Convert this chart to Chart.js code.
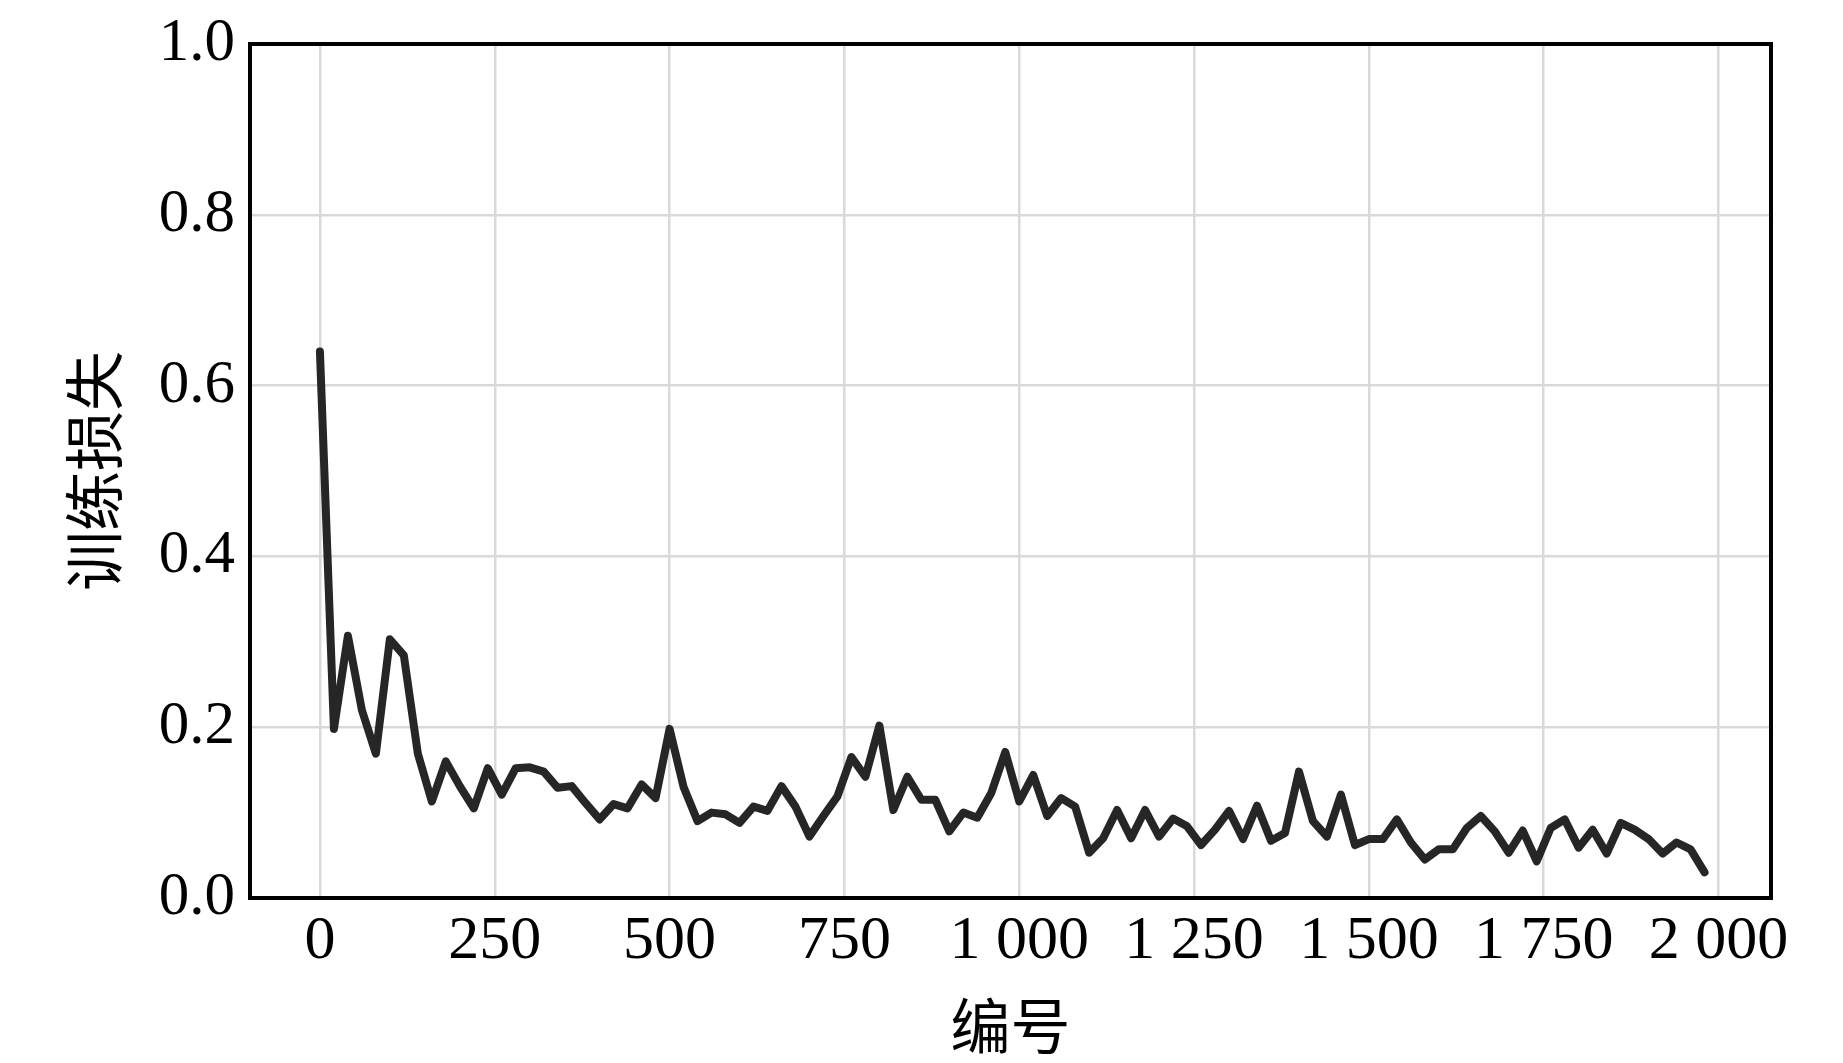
<!DOCTYPE html>
<html>
<head>
<meta charset="utf-8">
<script src="https://cdn.jsdelivr.net/npm/chart.js@4/dist/chart.umd.min.js"></script>
<style>
  html, body { margin: 0; padding: 0; background: #ffffff; }
  #wrap { width: 1843px; height: 1063px; position: relative; }
</style>
</head>
<body>
<div id="wrap"><canvas id="c"></canvas></div>
<script>
// ---- data ----
const steps = [0,20,40,60,80,100,120,140,160,180,200,220,240,260,280,300,320,340,360,380,
  400,420,440,460,480,500,520,540,560,580,600,620,640,660,680,700,720,740,760,780,
  800,820,840,860,880,900,920,940,960,980,1000,1020,1040,1060,1080,1100,1120,1140,1160,1180,
  1200,1220,1240,1260,1280,1300,1320,1340,1360,1380,1400,1420,1440,1460,1480,1500,1520,1540,1560,1580,
  1600,1620,1640,1660,1680,1700,1720,1740,1760,1780,1800,1820,1840,1860,1880,1900,1920,1940,1960,1980];
const trainLoss = [0.640,0.198,0.307,0.220,0.169,0.303,0.284,0.169,0.113,0.160,
  0.131,0.105,0.152,0.121,0.152,0.153,0.148,0.129,0.131,0.111,
  0.092,0.110,0.105,0.133,0.117,0.198,0.130,0.090,0.100,0.098,
  0.088,0.107,0.102,0.131,0.107,0.072,0.096,0.119,0.165,0.142,
  0.202,0.103,0.142,0.115,0.115,0.078,0.100,0.094,0.123,0.171,
  0.113,0.144,0.096,0.117,0.107,0.053,0.070,0.103,0.070,0.103,
  0.072,0.093,0.084,0.062,0.080,0.102,0.069,0.108,0.067,0.076,
  0.148,0.090,0.072,0.121,0.062,0.069,0.069,0.092,0.065,0.045,
  0.057,0.057,0.082,0.096,0.078,0.053,0.079,0.043,0.082,0.092,
  0.059,0.080,0.052,0.088,0.080,0.069,0.052,0.065,0.057,0.030];
const xTickValues = [0,250,500,750,1000,1250,1500,1750,2000];
const xTickLabels = ['0','250','500','750','1 000','1 250','1 500','1 750','2 000'];
const yTickValues = [0,0.2,0.4,0.6,0.8,1.0];
const yTickLabels = ['0.0','0.2','0.4','0.6','0.8','1.0'];
const xTitle = '编号';
const yTitle = '训练损失';

const points = steps.map((s, i) => ({x: s, y: trainLoss[i]}));

const frame = {
  id: 'frame',
  afterDatasetsDraw(chart) {
    const a = chart.chartArea, ctx = chart.ctx;
    ctx.save();
    ctx.strokeStyle = '#000';
    ctx.lineWidth = 4;
    ctx.strokeRect(a.left, a.top, a.right - a.left, a.bottom - a.top);
    ctx.restore();
  }
};

const serif = "'Liberation Serif', 'Times New Roman', serif";
const cjk = "'Noto Sans CJK SC', sans-serif";

new Chart(document.getElementById('c'), {
  type: 'line',
  data: {
    datasets: [{
      data: points,
      borderColor: '#262626',
      borderWidth: 8,
      pointRadius: 0,
      tension: 0,
      fill: false,
      borderJoinStyle: 'round',
      borderCapStyle: 'round'
    }]
  },
  options: {
    responsive: true,
    maintainAspectRatio: false,
    animation: false,
    layout: {padding: {top: 44, right: 72, bottom: 0, left: 0}},
    plugins: {legend: {display: false}, tooltip: {enabled: false}},
    scales: {
      x: {
        type: 'linear',
        min: -100,
        max: 2075,
        afterBuildTicks: (s) => { s.ticks = xTickValues.map(v => ({value: v})); },
        afterFit: (s) => { s.height = 165; s.paddingLeft = 0; s.paddingRight = 0; },
        ticks: {
          font: {family: serif, size: 62}, color: '#000', padding: 7, maxRotation: 0, autoSkip: false,
          callback: (v) => { const i = xTickValues.indexOf(v); return i >= 0 ? xTickLabels[i] : ''; }
        },
        grid: {color: '#d9d9d9', lineWidth: 2.5, drawTicks: false},
        border: {display: false},
        title: {display: true, text: xTitle, font: {family: cjk, size: 60}, color: '#000', padding: {top: 0, bottom: 1}}
      },
      y: {
        type: 'linear',
        min: 0,
        max: 1,
        afterBuildTicks: (s) => { s.ticks = yTickValues.map(v => ({value: v})); },
        afterFit: (s) => { s.width = 250; s.paddingTop = 0; s.paddingBottom = 0; },
        ticks: {
          font: {family: serif, size: 61}, color: '#000', padding: 15, autoSkip: false,
          callback: (v) => { const i = yTickValues.findIndex(t => Math.abs(t - v) < 1e-9); return i >= 0 ? yTickLabels[i] : ''; }
        },
        grid: {color: '#d9d9d9', lineWidth: 2.5, drawTicks: false},
        border: {display: false},
        title: {display: true, text: yTitle, font: {family: cjk, size: 60}, color: '#000', padding: {top: 58, bottom: 0}}
      }
    }
  },
  plugins: [frame]
});
</script>
</body>
</html>
